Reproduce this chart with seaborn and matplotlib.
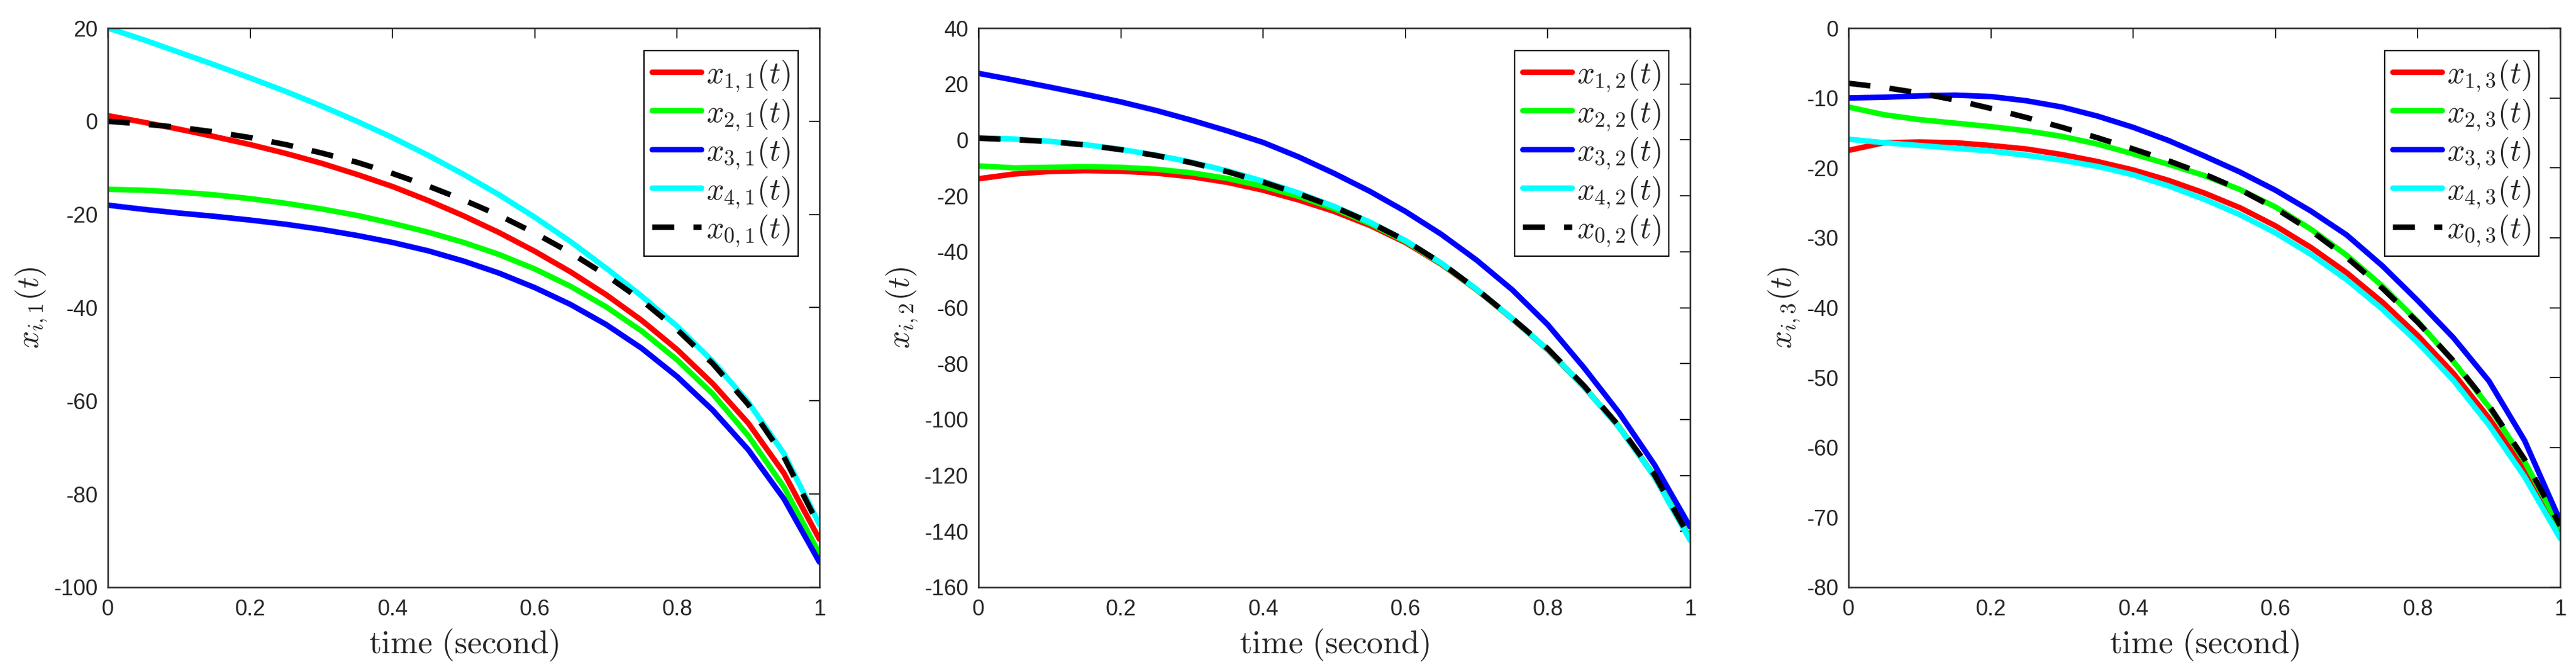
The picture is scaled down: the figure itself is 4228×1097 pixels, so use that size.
import matplotlib
matplotlib.use("Agg")
import matplotlib.pyplot as plt
import seaborn as sns
import pandas as pd

# ---- data ----
time = [0.0, 0.05, 0.1, 0.15, 0.2, 0.25, 0.3, 0.35, 0.4, 0.45, 0.5,
        0.55, 0.6, 0.65, 0.7, 0.75, 0.8, 0.85, 0.9, 0.95, 1.0]

# component 1
x11 = [1.2, -0.2, -1.7, -3.3, -5.0, -6.9, -9.0, -11.4, -14.0, -17.0, -20.3,
       -23.9, -27.9, -32.3, -37.2, -42.7, -49.0, -56.3, -64.8, -75.5, -89.7]
x21 = [-14.6, -14.8, -15.2, -15.8, -16.6, -17.6, -18.8, -20.2, -21.9, -23.8, -26.0,
       -28.6, -31.7, -35.4, -39.8, -45.0, -51.2, -58.5, -67.5, -78.5, -92.8]
x31 = [-18.0, -18.9, -19.7, -20.4, -21.2, -22.1, -23.2, -24.5, -26.0, -27.8, -30.0,
       -32.6, -35.7, -39.3, -43.6, -48.7, -54.8, -62.0, -70.5, -81.0, -94.6]
x41 = [20.0, 17.5, 14.8, 12.1, 9.3, 6.4, 3.3, 0.0, -3.5, -7.3, -11.4,
       -15.8, -20.6, -25.8, -31.5, -37.5, -44.0, -51.5, -60.3, -71.3, -86.5]
x01 = [0.0, -0.6, -1.3, -2.3, -3.5, -5.0, -6.8, -8.8, -11.2, -13.9, -16.9,
       -20.2, -24.0, -28.2, -33.0, -38.4, -44.7, -52.0, -60.8, -72.0, -87.0]

# component 2
x12 = [-13.9, -12.2, -11.3, -11.0, -11.2, -11.9, -13.2, -15.2, -18.0, -21.5, -25.6,
       -30.6, -36.7, -44.4, -53.6, -64.0, -75.1, -88.1, -102.7, -120.4, -142.8]
x22 = [-9.3, -10.0, -9.8, -9.6, -9.8, -10.5, -11.8, -13.8, -16.6, -20.2, -24.6,
       -29.9, -36.3, -44.2, -53.5, -63.9, -75.0, -88.0, -102.6, -120.2, -142.6]
x32 = [23.8, 21.4, 18.9, 16.3, 13.6, 10.5, 7.0, 3.2, -0.9, -6.1, -12.0,
       -18.4, -25.6, -33.7, -43.0, -53.6, -66.1, -81.2, -97.5, -116.2, -138.4]
x42 = [0.8, 0.3, -0.5, -1.7, -3.4, -5.5, -8.0, -11.1, -14.8, -19.0, -23.8,
       -29.4, -36.0, -44.0, -53.4, -63.9, -75.0, -88.0, -102.8, -120.5, -143.2]
x02 = [0.6, 0.1, -0.6, -1.8, -3.5, -5.6, -8.2, -11.4, -15.1, -19.3, -24.0,
       -29.5, -36.0, -44.0, -53.4, -63.8, -74.7, -87.7, -102.3, -119.8, -142.4]

# component 3
x13 = [-17.5, -16.4, -16.3, -16.4, -16.8, -17.3, -18.1, -19.1, -20.3, -21.8, -23.6,
       -25.7, -28.3, -31.4, -35.0, -39.2, -44.0, -49.4, -55.8, -63.2, -72.0]
x23 = [-11.3, -12.4, -13.1, -13.6, -14.1, -14.7, -15.5, -16.6, -18.0, -19.5, -21.1,
       -23.1, -25.6, -28.8, -32.5, -36.9, -42.0, -47.7, -54.2, -62.0, -71.5]
x33 = [-10.0, -9.9, -9.7, -9.6, -9.8, -10.4, -11.3, -12.6, -14.2, -16.1, -18.3,
       -20.6, -23.2, -26.2, -29.6, -34.0, -39.0, -44.3, -50.5, -59.0, -70.5]
x43 = [-15.9, -16.4, -16.8, -17.2, -17.6, -18.2, -18.9, -19.8, -21.0, -22.6, -24.5,
       -26.7, -29.3, -32.4, -36.0, -40.2, -45.0, -50.4, -56.8, -64.2, -73.0]
x03 = [-7.9, -8.5, -9.3, -10.3, -11.5, -12.8, -14.2, -15.7, -17.3, -19.0, -20.9,
       -23.1, -25.8, -29.0, -32.8, -37.2, -42.1, -47.6, -54.0, -61.7, -71.2]

xtick_values = [0, 0.2, 0.4, 0.6, 0.8, 1]
xtick_labels = ["0", "0.2", "0.4", "0.6", "0.8", "1"]
yticks_1 = [-100, -80, -60, -40, -20, 0, 20]
yticks_2 = [-160, -140, -120, -100, -80, -60, -40, -20, 0, 20, 40]
yticks_3 = [-80, -70, -60, -50, -40, -30, -20, -10, 0]

panels = [
    (1, [x11, x21, x31, x41, x01], yticks_1),
    (2, [x12, x22, x32, x42, x02], yticks_2),
    (3, [x13, x23, x33, x43, x03], yticks_3),
]
agent_ids = [1, 2, 3, 4, 0]
line_colors = ["#ff0000", "#00ff00", "#0000ff", "#00ffff", "#000000"]

# ---- style ----
sns.set_style("white")
plt.rcParams["font.family"] = ["Liberation Sans", "DejaVu Sans"]
plt.rcParams["mathtext.fontset"] = "cm"
plt.rcParams["axes.unicode_minus"] = False

axis_gray = (0.15, 0.15, 0.15)

fig = plt.figure(figsize=(42.28, 10.97), dpi=100)
lefts = [177 / 4228, 1606 / 4228, 3034 / 4228]
ax_w = 1168 / 4228
ax_b = (1097 - 963) / 1097
ax_h = (963 - 46) / 1097

for (j, series, yticks), left in zip(panels, lefts):
    ax = fig.add_axes([left, ax_b, ax_w, ax_h])
    for i, vals, col in zip(agent_ids, series, line_colors):
        df = pd.DataFrame({"t": time, "x": vals})
        ls = (0, (4.0, 3.5)) if i == 0 else "-"
        sns.lineplot(data=df, x="t", y="x", ax=ax, color=col, linewidth=6.5,
                     linestyle=ls, errorbar=None,
                     label=rf"$x_{{{i},{j}}}(t)$")

    ax.set_xlim(0, 1)
    ax.set_ylim(yticks[0], yticks[-1])
    ax.set_xticks(xtick_values)
    ax.set_xticklabels(xtick_labels)
    ax.set_yticks(yticks)
    ax.set_yticklabels([str(v) for v in yticks])
    ax.tick_params(direction="in", length=12, width=1.5, colors=axis_gray,
                   labelsize=26, top=True, right=True)
    ax.tick_params(axis="x", pad=14)
    ax.tick_params(axis="y", pad=12)
    for sp in ax.spines.values():
        sp.set_color(axis_gray)
        sp.set_linewidth(1.8)

    ax.set_xlabel(r"$\mathrm{time\ (second)}$", fontsize=38.5, color=axis_gray, labelpad=8)
    ax.set_ylabel(rf"$x_{{i,{j}}}(t)$", fontsize=37, color=axis_gray, labelpad=5)

    leg = ax.legend(loc="upper right", bbox_to_anchor=(0.970, 0.960), borderaxespad=0,
                    fontsize=36.5, handlelength=1.6, handletextpad=0.16,
                    labelspacing=0.11, borderpad=0.25, fancybox=False,
                    framealpha=1, edgecolor="black")
    leg.get_frame().set_linewidth(1.5)

fig.savefig("out.png", dpi=100)
